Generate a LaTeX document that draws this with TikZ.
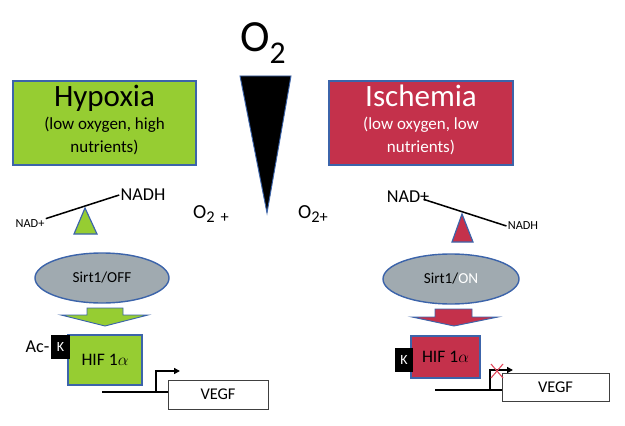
\documentclass[tikz,border=0pt]{standalone}
\usepackage{fontspec}
\setmainfont{Carlito}
\usetikzlibrary{positioning, shapes.geometric, arrows.meta}

\definecolor{hypgreen}{RGB}{150,205,50}
\definecolor{ischred}{RGB}{196,49,75}
\definecolor{edgeblue}{RGB}{60,100,170}
\definecolor{sirtgray}{RGB}{160,170,176}
\definecolor{xred}{RGB}{225,70,90}
\newcommand{\fsz}[2]{\fontsize{#1}{#2}\selectfont}

\begin{document}
\begin{tikzpicture}[x=0.03cm, y=-0.03cm,
    condbox/.style={draw=edgeblue, line width=1.2pt, rectangle, align=center, inner sep=0pt, minimum height=2.52cm, font=\fsz{14.5}{19.5}},
    sirt/.style={draw=edgeblue, line width=1.2pt, ellipse, fill=sirtgray, minimum height=1.5cm, font=\fsz{13}{15}},
    hifbox/.style={draw=edgeblue, line width=1.2pt, rectangle, font=\fsz{15}{18}},
    kbox/.style={fill=black, text=white, rectangle, inner sep=0pt, minimum height=0.72cm, font=\fsz{12}{14}},
    genebox/.style={draw=black!75, line width=0.8pt, fill=white, rectangle, font=\fsz{14}{16}},
    beam/.style={line width=1.3pt},
    fulcrum/.style={draw=edgeblue, line width=1pt},
    blockarrow/.style={draw=edgeblue, line width=0.8pt},
    dna/.style={line width=1.2pt},
    promoter/.style={line width=1.5pt, -{Triangle[length=5pt, width=5pt]}}
]
    \useasboundingbox (0,0) rectangle (625,425);

    % Oxygen gradient
    \node[anchor=base west, inner sep=0pt, font=\fsz{38}{40}] (otop) at (240,52) {O\raisebox{-0.25em}{\fsz{27}{27}2}};
    \draw[draw=edgeblue, fill=black, line width=0.8pt] (240,76) -- (291,76) -- (267,213) -- cycle;
    \node[anchor=base west, inner sep=0pt, font=\fsz{17}{20}] (oleft) at (193,218) {O\raisebox{-0.25em}{\fsz{14}{14}2\hspace{5pt}+}};
    \node[anchor=base west, inner sep=0pt, font=\fsz{17}{20}] (oright) at (298,218) {O\raisebox{-0.25em}{\fsz{14}{14}2+}};

    % Conditions
    \node[condbox, fill=hypgreen, minimum width=5.49cm] (hypoxia) at (104.5,123) {{\fsz{26.5}{30}Hypoxia}\\{(low oxygen, high}\\{nutrients)\rule[-7.5pt]{0pt}{7.5pt}}};
    \node[condbox, fill=ischred, text=white, minimum width=5.52cm] (ischemia) at (421,123) {{\fsz{26.5}{30}Ischemia}\\{(low oxygen, low}\\{nutrients)\rule[-7.5pt]{0pt}{7.5pt}}};

    % Redox balance, left
    \node[inner sep=1pt, font=\fsz{15.5}{18}] (nadhL) at (143,195) {NADH};
    \node[inner sep=1pt, font=\fsz{10.5}{12}] (nadL) at (30,224) {NAD+};
    \draw[beam] (nadL.north east) -- (nadhL.west);
    \draw[fulcrum, fill=hypgreen] (85,208) -- (97,234) -- (74,234) -- cycle;

    % Redox balance, right
    \node[inner sep=1pt, font=\fsz{15.5}{18}] (nadR) at (408,197) {NAD+};
    \node[inner sep=1pt, font=\fsz{10.5}{12}] (nadhR) at (523,226) {NADH};
    \draw[beam] ([xshift=-6pt, yshift=-2pt]nadR.east) -- (nadhR.west);
    \draw[fulcrum, fill=ischred] (462,214) -- (473,242) -- (452,242) -- cycle;

    % Sirt1
    \node[sirt, minimum width=4.02cm] (sirtL) at (102,278) {Sirt1/OFF};
    \node[sirt, minimum width=4.08cm] (sirtR) at (451,279) {Sirt1/\textcolor{white}{ON}};
    \draw[blockarrow, fill=hypgreen] (87,308) -- (123,308) -- (123,315) -- (148,315) -- (105,326) -- (61,315) -- (87,315) -- cycle;
    \draw[blockarrow, fill=ischred] (435,309) -- (472,309) -- (472,317) -- (498,317) -- (454,326) -- (412,317) -- (435,317) -- cycle;

    % HIF 1 alpha
    \node[hifbox, fill=hypgreen, minimum width=2.22cm, minimum height=1.5cm] (hifL) at (105,360) {HIF 1$\alpha$};
    \node[kbox, minimum width=0.57cm] (kL) at (60.5,347) {K};
    \node[inner sep=1pt, font=\fsz{15.5}{18}, left=0pt of kL] (acL) {Ac-};
    \node[hifbox, fill=ischred, minimum width=2.07cm, minimum height=1.26cm] (hifR) at (445.5,357) {HIF 1$\alpha$};
    \node[kbox, minimum width=0.54cm] (kR) at (404,360) {K};

    % VEGF
    \node[genebox, minimum width=3.0cm, minimum height=0.87cm] (geneL) at (218,394.5) {VEGF};
    \node[genebox, minimum width=3.21cm, minimum height=0.84cm] (geneR) at (555.5,387) {VEGF};
    \coordinate (dnaL) at (102,392);
    \coordinate (tssL) at (156,392);
    \draw[dna] (dnaL) -- (tssL -| geneL.west);
    \draw[promoter] (tssL) |- ++(24,-21);
    \coordinate (dnaR) at (435,390);
    \coordinate (tssR) at (490,390);
    \draw[dna] (dnaR) -- (tssR -| geneR.west);
    \draw[promoter] (tssR) |- ++(23,-20);
    \coordinate (noexp) at (497,371);
    \draw[xred, line width=0.9pt] ([shift={(-6,-7)}]noexp) -- ([shift={(6,7)}]noexp);
    \draw[xred, line width=0.9pt] ([shift={(6,-7)}]noexp) -- ([shift={(-6,7)}]noexp);
\end{tikzpicture}
\end{document}
